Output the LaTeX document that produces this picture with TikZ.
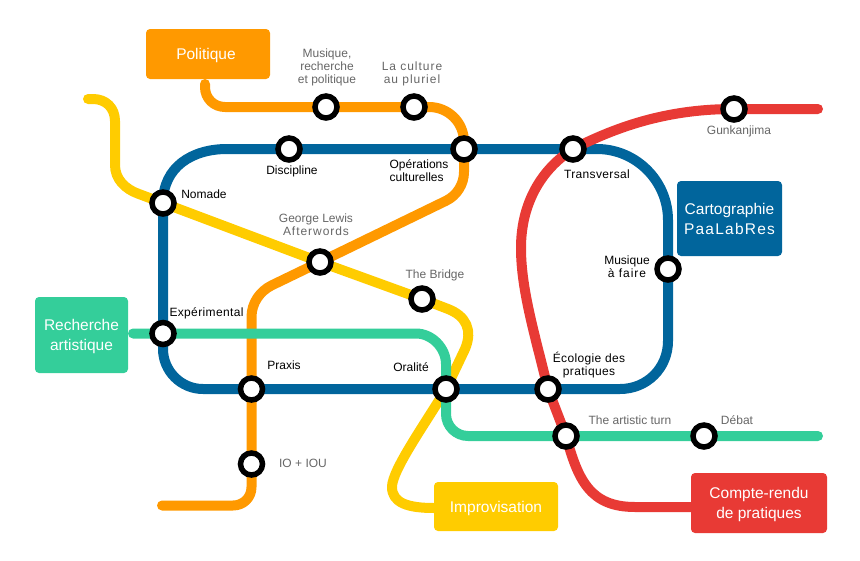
\documentclass[tikz,border=0pt]{standalone}
\usetikzlibrary{backgrounds}
\usepackage{fontspec}
\setmainfont{Liberation Sans}
\newfontfamily\widefont[LetterSpace=8]{Liberation Sans}
\newfontfamily\slightfont[LetterSpace=3]{Liberation Sans}
\definecolor{lineorange}{HTML}{FF9900}
\definecolor{lineyellow}{HTML}{FFCC00}
\definecolor{lineblue}{HTML}{01659C}
\definecolor{linegreen}{HTML}{34CE9A}
\definecolor{linered}{HTML}{E83A35}
\definecolor{greytext}{HTML}{666666}
\tikzset{
  metroline/.style={line width=10pt, line cap=round, line join=round},
  station/.style={circle, draw=black, fill=white, line width=5.5pt, minimum size=22pt, inner sep=0pt},
  stoptext/.style={inner sep=0pt, align=center, font=\fontsize{12}{13}\selectfont},
  greystop/.style={stoptext, text=greytext},
  linebox/.style={rounded corners=4pt, inner sep=0pt, text=white, align=center, text depth=0pt, font=\fontsize{15.5}{20}\selectfont}
}
\begin{document}
\begin{tikzpicture}[x=1pt, y=-1pt]

        \useasboundingbox (0,0) rectangle (860,560);

        % Create the boxes for the lines
        \node[linebox, fill=lineorange, minimum width=124pt, minimum height=50pt] (politique) at (208,54) {Politique\hspace*{4pt}};
        \node[linebox, fill=lineblue, minimum width=105pt, minimum height=75pt] (cartographie) at (729.5,218.5) {Cartographie\\{\widefont PaaLabRes}};
        \node[linebox, fill=linegreen, minimum width=93pt, minimum height=76pt] (recherche) at (81.5,335) {Recherche\\artistique};
        \node[linebox, fill=lineyellow, minimum width=124pt, minimum height=49pt] (improvisation) at (496,506.5) {Improvisation};
        \node[linebox, fill=linered, minimum width=136pt, minimum height=60pt] (compterendu) at (759,503) {Compte-rendu\\de pratiques};

        % Create the stations
        \begin{scope}[every node/.style={station}]
        \node (musique) at (326,107) {};
        \node (culture) at (414,107) {};
        \node (discipline) at (289,149) {};
        \node (operations) at (464,149) {};
        \node (transversal) at (573,149) {};
        \node (gunkanjima) at (734,109) {};
        \node (nomade) at (163,203) {};
        \node (lewis) at (320,262) {};
        \node (bridge) at (422,299) {};
        \node (faire) at (668,269) {};
        \node (experimental) at (163,333.5) {};
        \node (praxis) at (251.5,389) {};
        \node (iou) at (251.5,464) {};
        \node (oralite) at (446,389) {};
        \node (ecologie) at (548,389) {};
        \node (turn) at (566,436) {};
        \node (debat) at (704,436) {};
        \end{scope}

        % Free ends of the lines
        \coordinate (orangestart) at (205,84);
        \coordinate (orangeend) at (162,505.5);
        \coordinate (yellowstart) at (88,99);
        \coordinate (yellowend) at (434,508);
        \coordinate (greenstart) at (133,333.5);
        \coordinate (greenend) at (818,436);
        \coordinate (redend) at (818,109);
        \coordinate (redstart) at (691,507);

        % Draw the lines behind the stations
        \begin{scope}[on background layer]
        \draw[metroline, lineorange] (orangestart) -- (205,87) .. controls (205,98.6) and (214,107) .. (225,107) -- (musique.center) -- (culture.center) -- (429,107) .. controls (448,107) and (464,122) .. (464,142) -- (operations.center) -- (464,172) .. controls (464,184) and (457,195.5) .. (446,200.8) -- (lewis.center) -- (272,285.2) .. controls (260,291) and (251.5,303) .. (251.5,317) -- (praxis.center) -- (iou.center) -- (251.5,487) .. controls (251.5,498) and (243,505.5) .. (233,505.5) -- (orangeend);
        \draw[metroline, lineyellow] (yellowstart) -- (93,99) .. controls (106,99) and (115,108) .. (115,121) -- (115,165) .. controls (115,179) and (125,189) .. (138.4,193.8) -- (nomade.center) -- (lewis.center) -- (bridge.center) -- (448,309) .. controls (466,316) and (473,330) .. (465,349) -- (oralite.center) .. controls (425,424) and (392,470) .. (392,487) .. controls (392,503) and (408,508) .. (yellowend);
        \draw[metroline, lineblue] (nomade.center) .. controls (163,167) and (192,149) .. (227,149) -- (discipline.center) -- (operations.center) -- (transversal.center) -- (597,149) .. controls (636,149) and (668,181) .. (668,220) -- (faire.center) -- (668,341) .. controls (668,368) and (647,389) .. (620,389) -- (ecologie.center) -- (oralite.center) -- (praxis.center) -- (203,389) .. controls (181,389) and (163,371) .. (163,349) -- (experimental.center) -- (nomade.center);
        \draw[metroline, linegreen] (greenstart) -- (experimental.center) -- (416,333.5) .. controls (432,333.5) and (446,348) .. (446,364) -- (oralite.center) -- (446,414) .. controls (446,426) and (456,436) .. (468,436) -- (turn.center) -- (debat.center) -- (greenend);
        \draw[metroline, linered] (redend) -- (gunkanjima.center) .. controls (670,109) and (620,125) .. (transversal.center) .. controls (540,170) and (521,205) .. (521,248) .. controls (521,290) and (535,335) .. (ecologie.center) -- (turn.center) .. controls (578,480) and (590,507) .. (635,507) -- (redstart);
        \end{scope}

        % Create the station labels
        \node[greystop] (musiquetext) at (327,67) {Musique,\\recherche\\et politique};
        \node[greystop, font=\fontsize{12}{13}\selectfont\widefont] (culturetext) at (412,73.5) {La culture\\au pluriel};
        \node[stoptext] (disciplinetext) at (292,171.5) {Discipline};
        \node[stoptext, align=left] (operationstext) at (419,170.5) {Opérations\\culturelles};
        \node[stoptext, font=\fontsize{12}{13}\selectfont\slightfont] (transversaltext) at (597,174) {Transversal};
        \node[greystop] (gunkanjimatext) at (739,131) {Gunkanjima};
        \node[stoptext] (nomadetext) at (204,194) {Nomade};
        \node[greystop] (lewistext) at (316,224.5) {George Lewis\\{\widefont Afterwords}};
        \node[greystop] (bridgetext) at (435,275) {The Bridge};
        \node[stoptext] (fairetext) at (627,266.5) {Musique\\{\widefont à faire}};
        \node[stoptext, font=\fontsize{12}{13}\selectfont\slightfont] (experimentaltext) at (206.5,313) {Expérimental};
        \node[stoptext] (praxistext) at (284,365) {Praxis};
        \node[stoptext] (oralitetext) at (411,367) {Oralité};
        \node[greystop] (ioutext) at (303,463) {IO + IOU};
        \node[stoptext, font=\fontsize{12}{13}\selectfont\slightfont] (ecologietext) at (589,365.5) {Écologie des\\pratiques};
        \node[greystop] (turntext) at (630,420) {The artistic turn};
        \node[greystop] (debattext) at (737,420) {Débat};

    \end{tikzpicture}
\end{document}
